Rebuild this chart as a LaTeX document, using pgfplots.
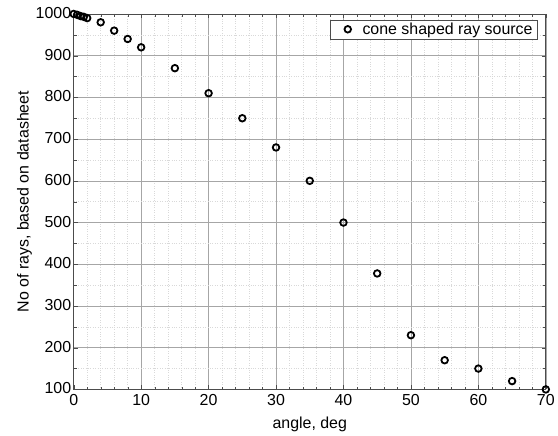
\documentclass[border=0pt]{standalone}
\usepackage{pgfplots}
\pgfplotsset{compat=1.18}
\usepackage{fontspec}
\setmainfont{Liberation Sans}

\begin{document}
\begin{tikzpicture}
\begin{axis}[
    scale only axis,
    width=474pt, height=377pt,
    xmin=0, xmax=70, ymin=100, ymax=1000,
    xtick={0,10,...,70}, ytick={100,200,...,1000},
    minor x tick num=4, minor y tick num=1,
    grid=both,
    major grid style={gray!70, line width=0.6pt},
    minor grid style={gray!30, dotted, line width=0.5pt},
    axis line style={gray!60!black, line width=0.8pt},
    tick style={gray!60!black},
    tick align=inside,
    font=\fontsize{16}{18}\selectfont,
    /pgf/number format/assume math mode=true,
    /pgf/number format/1000 sep={},
    xticklabel style={yshift=-1pt},
    yticklabel style={xshift=1pt, yshift=1pt},
    xlabel={angle, deg},
    ylabel={No of rays, based on datasheet},
    xlabel style={yshift=-5pt},
    ylabel style={yshift=-3pt},
    legend style={at={(0.983,0.985)}, anchor=north east, draw=gray!60!black,
        font=\fontsize{16}{18}\selectfont, inner xsep=3pt, inner ysep=1pt},
    legend image code/.code={
        \path[draw=none, fill=none] (0cm,0cm) -- (0.95cm,0cm);
        \draw[#1] plot coordinates {(0.5cm,0cm)};},
    legend cell align=left,
    clip=false,
]
\addplot[only marks, mark=o, mark size=3.3pt, line width=1.8pt, black]
coordinates {
    (0,1000)(0.5,998)(1,995)(1.5,993)(2,990)(4,980)(6,960)(8,940)(10,920)
    (15,870)(20,810)(25,750)(30,680)(35,600)(40,500)(45,378)
    (50,230)(55,170)(60,150)(65,120)(70,100)
};
\addlegendentry{cone shaped ray source}
\end{axis}
\path ([xshift=-74pt, yshift=-43pt]current axis.south west)
    rectangle ([xshift=10pt, yshift=14pt]current axis.north east);
\end{tikzpicture}
\end{document}
